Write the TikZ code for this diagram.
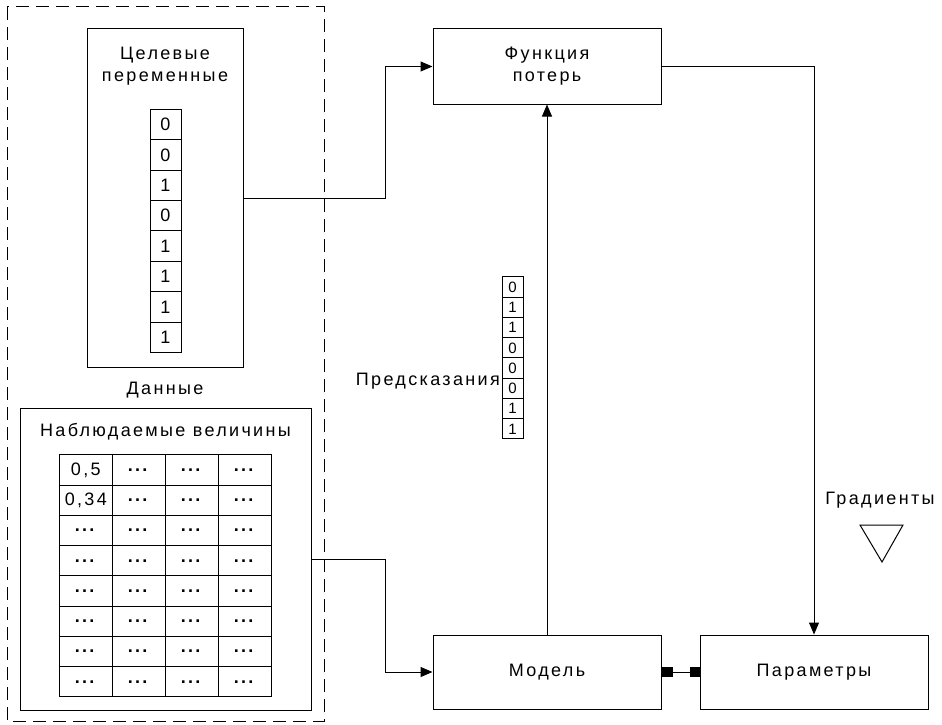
\documentclass[tikz,border=0pt]{standalone}
\usepackage{fontspec}
\setmainfont{Liberation Sans}[LetterSpace=13]
\usetikzlibrary{arrows.meta}

\newcommand{\celldots}{\textbf{...}}
\tikzset{
  box/.style = {draw, line width=1pt, inner sep=0pt},
  cell/.style = {draw, line width=1pt, inner sep=0pt, minimum width=31pt, minimum height=30.4pt},
  smallcell/.style = {draw, line width=1pt, inner sep=0pt, minimum width=21pt, minimum height=20.25pt, font=\fontsize{15}{17}\selectfont},
  tcell/.style = {draw, line width=1pt, inner sep=0pt, minimum width=53pt, minimum height=30.25pt},
  conn/.style = {line width=1pt, -{Triangle[length=12pt,width=10pt]}}
}

\begin{document}
\begin{tikzpicture}[x=1pt, y=-1pt, font=\fontsize{18}{22}\selectfont]
\useasboundingbox (0,0) rectangle (942,725);
%\draw [help lines] (0,0) grid (942,725);
    % data block
    \draw [line width=1pt, dash pattern=on 13pt off 7pt] (7,7) rectangle (324,721);
    \node [box, minimum width=156pt, minimum height=338pt] (tgtbox) at (165,198) {};
    \node [align=center] (tgtlabel) at (165,66) {Целевые\\переменные};
    \foreach \v [count=\i] in {0,0,1,0,1,1,1,1}
        \node [cell] (tgt\i) at (165.5,124.5+30.4*\i-30.4) {\v};
    \node (datalabel) at (165,390) {Данные};
    \node [box, minimum width=291pt, minimum height=302pt] (obsbox) at (165.5,559) {};
    \node (obslabel) at (165.5,432) {Наблюдаемые величины};
    \foreach \v [count=\r] in {{0,5},{0,34},\celldots,\celldots,\celldots,\celldots,\celldots,\celldots}
        \node [tcell] (obs-\r-1) at (85.8,470.1+30.25*\r-30.25) {\v};
    \foreach \r in {1,...,8}
        \foreach \c in {2,3,4}
            \node [tcell] (obs-\r-\c) at (85.8+53*\c-53,470.1+30.25*\r-30.25) {\celldots};

    % model side
    \node [box, minimum width=228pt, minimum height=75pt, align=center] (loss) at (547,66.5) {Функция\\потерь};
    \node [box, minimum width=228pt, minimum height=74pt] (model) at (547,672) {Модель};
    \node [box, minimum width=228pt, minimum height=74pt] (params) at (814,672) {Параметры};
    \foreach \v [count=\i] in {0,1,1,0,0,0,1,1}
        \node [smallcell, fill=white] (pred\i) at (512.5,287.1+20.25*\i-20.25) {\v};
    \node [anchor=east, inner sep=1pt] (predlabel) at (501,381) {Предсказания};
    \node (gradlabel) at (880,500) {Градиенты};
    \draw [line width=1pt] (860,525) -- (903,525) -- (882,562) -- cycle;

    % connectors
    \draw [conn] (tgtbox.east) -- ++(142,0) |- (loss.west);
    \draw [conn] (obsbox.east) -- ++(74,0) |- (model.west);
    \draw [conn] (model.north) -- (loss.south);
    \draw [conn] (loss.east) -| (params.north);
    \draw [line width=1pt, {Square[length=11pt,width=10pt]}-{Square[length=10pt,width=10pt]}] (model.east) -- (params.west);
\end{tikzpicture}
\end{document}
